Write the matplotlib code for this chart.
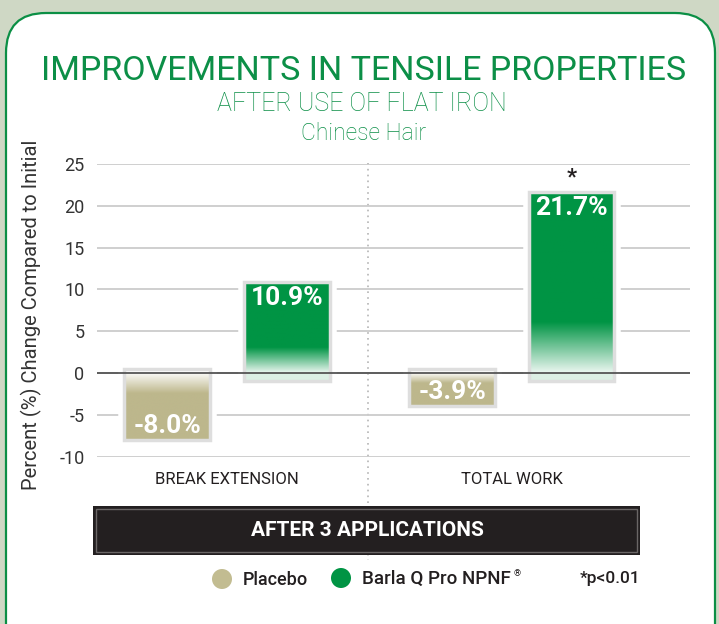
import numpy as np
import matplotlib as mpl
mpl.use('Agg')
import matplotlib.pyplot as plt
from matplotlib.patches import FancyBboxPatch, Rectangle, Circle
from matplotlib.colors import to_rgb

# data
categories = ['BREAK EXTENSION', 'TOTAL WORK']
series = ['Placebo', 'Barla Q Pro NPNF']
placebo = [-8.0, -3.9]
barla = [10.9, 21.7]
significant = [False, True]
yticks = [-10, -5, 0, 5, 10, 15, 20, 25]

GREEN = '#009444'
TAN = '#bdb78c'
TITLE_GREEN = '#0c8f47'
W, H = 719, 624

plt.rcParams['font.family'] = ['Roboto', 'DejaVu Sans']

fig = plt.figure(figsize=(W / 100, H / 100), dpi=100)
fig.patch.set_facecolor('#cfd8c5')

# background axes in pixel units
bg = fig.add_axes([0, 0, 1, 1])
bg.set_xlim(0, W)
bg.set_ylim(H, 0)
bg.axis('off')
bg.add_patch(FancyBboxPatch((6, 13), 709, 660, boxstyle='round,pad=0,rounding_size=40',
                            facecolor='white', edgecolor='#0b8f45', linewidth=1.6))

bg.text(364, 71, 'IMPROVEMENTS IN TENSILE PROPERTIES', ha='center', va='center',
        fontsize=24.5, color=TITLE_GREEN, fontweight='normal')
bg.text(362, 104, 'AFTER USE OF FLAT IRON', ha='center', va='center',
        fontsize=18, color=TITLE_GREEN, fontweight='light')
bg.text(364, 133, 'Chinese Hair', ha='center', va='center',
        fontsize=16.5, color=TITLE_GREEN, fontweight='light')

# divider between groups
bg.plot([368, 368], [163, 560], color='#b5b5b5', linestyle=(0, (1, 2.5)), linewidth=1.2, zorder=1)

# dark banner
bg.add_patch(Rectangle((93, 506), 547, 49, facecolor='#231f20', edgecolor='none', zorder=3))
bg.add_patch(Rectangle((96, 509), 541, 43, facecolor='none', edgecolor='#6a6666', linewidth=1, zorder=3))
bg.text(367, 530, 'AFTER 3 APPLICATIONS', ha='center', va='center', color='white',
        fontsize=15, fontweight='bold', zorder=4)

# legend
bg.add_patch(Circle((222, 579), 10, facecolor='#c2bc91', edgecolor='none'))
bg.text(243, 580, series[0], ha='left', va='center', fontsize=13, color='#231f20', fontweight='medium')
bg.add_patch(Circle((341, 578), 10, facecolor=GREEN, edgecolor='none'))
leg2 = bg.text(362, 579, series[1], ha='left', va='center', fontsize=13.5, color='#231f20',
               fontweight='medium')
fig.canvas.draw()
bb = leg2.get_window_extent(fig.canvas.get_renderer())
bg.text(bb.x1 + 3, H - bb.y1 - 1, '®', ha='left', va='top', fontsize=6.5, color='#231f20')
bg.text(640, 578, '*p<0.01', ha='right', va='center', fontsize=12.5, color='#231f20', fontweight='medium')

# chart axes
ax = fig.add_axes([97 / W, 1 - 456.7 / H, 593 / W, (456.7 - 164) / H])
ax.set_facecolor('none')
ax.set_xlim(-0.456, 1.625)
ax.set_ylim(-10, 25)
for s in ax.spines.values():
    s.set_visible(False)
ax.set_yticks(yticks)
ax.set_yticklabels([str(t) for t in yticks])
ax.tick_params(axis='y', length=0, pad=9, labelsize=13, labelcolor='#333333')
ax.set_xticks(range(len(categories)))
ax.set_xticklabels(categories)
ax.tick_params(axis='x', length=0, pad=11, labelsize=12, labelcolor='#231f20')
ax.grid(axis='y', color='#cccccc', linewidth=1.3, zorder=0)
ax.set_axisbelow(True)
ax.axhline(0, color='#555555', linewidth=1.3, zorder=6)
ax.set_ylabel('Percent (%) Change Compared to Initial', fontsize=14.5, color='#333333')
ax.yaxis.set_label_coords(-0.093, 0.484)

offset, width = 0.21, 0.30


def gradient_bar(xc, y0, y1, color, fade_at_top, fade_frac):
    # vertical gradient image: solid colour fading to white near the zero line
    n = 200
    rgb = np.array(to_rgb(color))
    f = np.linspace(0, 1, n)[:, None]  # 0 bottom .. 1 top
    if fade_at_top:
        t = np.clip((1 - f) / fade_frac, 0, 1)
    else:
        t = np.clip(f / fade_frac, 0, 1)
    t = 0.08 + 0.92 * t
    img = (1 - t)[:, :, None] * np.ones(3) + t[:, :, None] * rgb
    img = np.repeat(img, 2, axis=1)
    ax.imshow(img, extent=[xc - width / 2, xc + width / 2, y0, y1], origin='lower',
              aspect='auto', zorder=3, interpolation='bilinear')


for i, cat in enumerate(categories):
    # placebo bar (negative)
    xc = i - offset
    v = placebo[i]
    ax.add_patch(Rectangle((xc - width / 2, v), width, 0.5 - v, facecolor='white',
                           edgecolor='white', linewidth=9, zorder=2))
    ax.add_patch(Rectangle((xc - width / 2, v), width, 0.5 - v, facecolor='none',
                           edgecolor='#dedede', linewidth=2.5, zorder=4))
    gradient_bar(xc, v, 0, TAN, True, 0.3)
    ax.text(xc, v + 0.2, f'{v:.1f}%', ha='center', va='bottom', color='white',
            fontsize=19, fontweight='bold', zorder=7)

    # product bar (positive)
    xc = i + offset
    v = barla[i]
    ax.add_patch(Rectangle((xc - width / 2, -1.0), width, v + 1.0, facecolor='white',
                           edgecolor='white', linewidth=9, zorder=2))
    ax.add_patch(Rectangle((xc - width / 2, -0.9), width, 0.9, facecolor='#dcefe4',
                           edgecolor='none', zorder=3))
    ax.add_patch(Rectangle((xc - width / 2, -0.9), width, v + 0.9, facecolor='none',
                           edgecolor='#dedede', linewidth=2.5, zorder=4))
    gradient_bar(xc, 0, v, GREEN, False, 0.28)
    ax.text(xc, v - 0.5, f'{v:.1f}%', ha='center', va='top', color='white',
            fontsize=19, fontweight='bold', zorder=7)
    if significant[i]:
        ax.text(xc, v + 0.35, '*', ha='center', va='bottom', color='#231f20',
                fontsize=16, fontweight='bold', zorder=7)

fig.savefig('out.png', dpi=100, facecolor=fig.get_facecolor())
